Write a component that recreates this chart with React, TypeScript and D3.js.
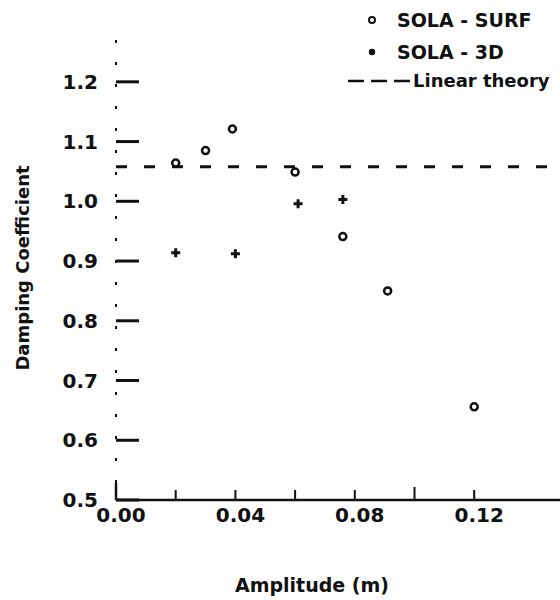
import { useEffect, useRef } from 'react';
import * as d3 from 'd3';

// SOLA-SURF (open circles)
const surfAmp = [0.02, 0.03, 0.039, 0.06, 0.076, 0.091, 0.12];
const surfDamp = [1.064, 1.085, 1.121, 1.049, 0.941, 0.85, 0.656];
// SOLA-3D (crosses)
const solidAmp = [0.02, 0.04, 0.061, 0.076];
const solidDamp = [0.914, 0.912, 0.996, 1.003];
// linear theory value
const linearTheory = [1.058];

const yTicks = [0.5, 0.6, 0.7, 0.8, 0.9, 1.0, 1.1, 1.2];
const yTickLabels = ['0.5', '0.6', '0.7', '0.8', '0.9', '1.0', '1.1', '1.2'];
const xMinorTicks = [0.02, 0.04, 0.06, 0.08, 0.1, 0.12];
const xTicks = [0, 0.04, 0.08, 0.12];
const xTickLabels = ['0.00', '0.04', '0.08', '0.12'];

const FONT = '"DejaVu Sans", sans-serif';
const INK = '#111';

const DampingChart = () => {
  const svgRef = useRef<SVGSVGElement | null>(null);

  useEffect(() => {
    const svg = d3.select(svgRef.current);
    svg.selectAll('*').remove();

    const x = d3.scaleLinear().domain([0, 0.15]).range([116, 563.75]);
    const y = d3.scaleLinear().domain([0.5, 1.27]).range([500, 40]);

    // left axis, faint dotted as in the scan
    svg
      .append('line')
      .attr('x1', x(0))
      .attr('x2', x(0))
      .attr('y1', y(1.27))
      .attr('y2', y(0.5))
      .attr('stroke', INK)
      .attr('stroke-width', 2)
      .attr('stroke-dasharray', '3 19');
    svg
      .append('line')
      .attr('x1', x(0))
      .attr('x2', x(0))
      .attr('y1', y(0.5) - 17)
      .attr('y2', y(0.5))
      .attr('stroke', INK)
      .attr('stroke-width', 2.5);

    // bottom axis
    svg
      .append('line')
      .attr('x1', x(0))
      .attr('x2', 560)
      .attr('y1', y(0.5))
      .attr('y2', y(0.5))
      .attr('stroke', INK)
      .attr('stroke-width', 2.5);

    // y ticks point inward
    svg
      .selectAll('.ytick')
      .data(yTicks)
      .enter()
      .append('line')
      .attr('x1', x(0))
      .attr('x2', x(0) + 23)
      .attr('y1', (d) => y(d))
      .attr('y2', (d) => y(d))
      .attr('stroke', INK)
      .attr('stroke-width', 3);

    svg
      .selectAll('.ylab')
      .data(yTicks)
      .enter()
      .append('text')
      .attr('x', 98)
      .attr('y', (d) => y(d) + 7)
      .attr('text-anchor', 'end')
      .style('font-family', FONT)
      .style('font-weight', 'bold')
      .style('font-size', '20px')
      .attr('fill', INK)
      .text((d, i) => yTickLabels[i]);

    // x ticks
    svg
      .selectAll('.xtick')
      .data(xMinorTicks)
      .enter()
      .append('line')
      .attr('x1', (d) => x(d))
      .attr('x2', (d) => x(d))
      .attr('y1', y(0.5))
      .attr('y2', (d) => y(0.5) - (Math.abs(d - 0.1) < 1e-9 ? 13 : 10))
      .attr('stroke', INK)
      .attr('stroke-width', 2);

    svg
      .selectAll('.xlab')
      .data(xTicks)
      .enter()
      .append('text')
      .attr('x', (d) => x(d) + 5)
      .attr('y', 522)
      .attr('text-anchor', 'middle')
      .style('font-family', FONT)
      .style('font-weight', 'bold')
      .style('font-size', '20px')
      .attr('fill', INK)
      .text((d, i) => xTickLabels[i]);

    // linear theory
    svg
      .selectAll('.theory')
      .data(linearTheory)
      .enter()
      .append('line')
      .attr('x1', x(0))
      .attr('x2', 560)
      .attr('y1', (d) => y(d))
      .attr('y2', (d) => y(d))
      .attr('stroke', INK)
      .attr('stroke-width', 3)
      .attr('stroke-dasharray', '11 17');

    // SOLA-3D
    const cross = d3.symbol().type(d3.symbolCross).size(45);
    svg
      .selectAll('.solid')
      .data(solidAmp)
      .enter()
      .append('path')
      .attr('d', cross)
      .attr('transform', (d, i) => `translate(${x(d)},${y(solidDamp[i])})`)
      .attr('fill', INK);

    // SOLA-SURF
    svg
      .selectAll('.surf')
      .data(surfAmp)
      .enter()
      .append('circle')
      .attr('cx', (d) => x(d))
      .attr('cy', (d, i) => y(surfDamp[i]))
      .attr('r', 3.5)
      .attr('fill', '#fff')
      .attr('stroke', INK)
      .attr('stroke-width', 2.5);

    // legend
    const legend = svg.append('g').style('font-family', FONT).style('font-weight', 'bold');
    legend
      .append('circle')
      .attr('cx', 372)
      .attr('cy', 20)
      .attr('r', 3)
      .attr('fill', '#fff')
      .attr('stroke', INK)
      .attr('stroke-width', 2);
    legend
      .append('text')
      .attr('x', 397)
      .attr('y', 27)
      .style('font-size', '19px')
      .attr('fill', INK)
      .text('SOLA - SURF');
    legend.append('circle').attr('cx', 372).attr('cy', 52).attr('r', 3.2).attr('fill', INK);
    legend
      .append('text')
      .attr('x', 397)
      .attr('y', 59)
      .style('font-size', '19px')
      .attr('fill', INK)
      .text('SOLA - 3D');
    legend
      .append('line')
      .attr('x1', 348)
      .attr('x2', 411)
      .attr('y1', 81)
      .attr('y2', 81)
      .attr('stroke', INK)
      .attr('stroke-width', 2.5)
      .attr('stroke-dasharray', '16 7');
    legend
      .append('text')
      .attr('x', 413)
      .attr('y', 87)
      .style('font-size', '18px')
      .attr('fill', INK)
      .text('Linear theory');

    // axis titles
    svg
      .append('text')
      .attr('x', 312)
      .attr('y', 592)
      .attr('text-anchor', 'middle')
      .style('font-family', FONT)
      .style('font-weight', 'bold')
      .style('font-size', '19px')
      .attr('fill', INK)
      .text('Amplitude (m)');

    svg
      .append('text')
      .attr('transform', 'translate(29,268) rotate(-90)')
      .attr('text-anchor', 'middle')
      .style('font-family', FONT)
      .style('font-weight', 'bold')
      .style('font-size', '18px')
      .attr('fill', INK)
      .text('Damping Coefficient');
  }, []);

  return (
    <svg
      ref={svgRef}
      width="560"
      height="600"
      style={{ position: 'absolute', left: 0, top: 0, background: '#fff' }}
    ></svg>
  );
};

export default function App() {
  return <DampingChart />;
}
